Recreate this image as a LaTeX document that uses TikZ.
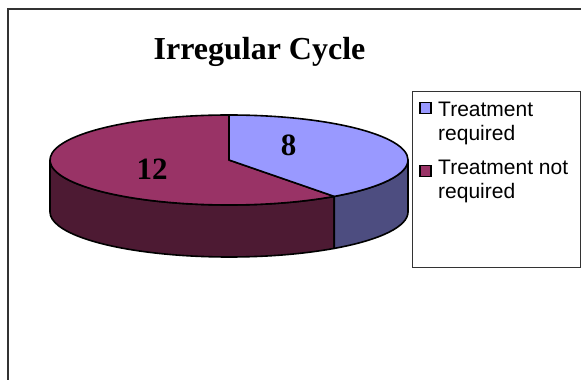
\documentclass[tikz,border=0pt]{standalone}
\usepackage{fontspec}
\usetikzlibrary{calc}
\setmainfont{Liberation Serif}
\newfontfamily\legendfont{Liberation Sans}
\definecolor{reqtop}{HTML}{9999FF}
\definecolor{reqside}{HTML}{4D4D80}
\definecolor{notop}{HTML}{993366}
\definecolor{noside}{HTML}{4D1A33}
\tikzset{
	slice/.style={draw=black,line width=1.6pt,line join=round},
	keybox/.style={draw=black,line width=1.4pt,minimum size=11pt,inner sep=0pt},
	keytext/.style={anchor=base west,align=left,inner sep=0pt,font=\legendfont\fontsize{21}{24.5}\selectfont},
	count/.style={anchor=base,inner sep=0pt,font=\fontsize{31}{36}\selectfont\bfseries}
}
\begin{document}
\begin{tikzpicture}[x=1pt,y=1pt]
			\useasboundingbox (0,0) rectangle (581,380);
			\clip (0,0) rectangle (581,380);
			\fill[white] (0,0) rectangle (581,380);
			\draw[line width=2pt,color=black!80] (8,-10) -- (8,371) -- (600,371);
			\node (title) at (259.5,320) [anchor=base,inner sep=0pt,font=\fontsize{32}{38}\selectfont\bfseries] {Irregular Cycle};
			\coordinate (c) at (229,220);
			\coordinate (cut) at ($(c)+(306:179 and 45)$);
			\filldraw[slice,fill=noside] (c) ++(180:179 and 45) arc[start angle=180,end angle=306,x radius=179,y radius=45] -- ++(0,-52) arc[start angle=306,end angle=180,x radius=179,y radius=45] -- cycle;
			\filldraw[slice,fill=reqside] (cut) arc[start angle=306,end angle=360,x radius=179,y radius=45] -- ++(0,-52) arc[start angle=360,end angle=306,x radius=179,y radius=45] -- cycle;
			\filldraw[slice,fill=notop] (c) -- (cut) arc[start angle=-54,end angle=-270,x radius=179,y radius=45] -- cycle;
			\filldraw[slice,fill=reqtop] (c) -- ++(90:179 and 45) arc[start angle=90,end angle=-54,x radius=179,y radius=45] -- cycle;
			\node (lblA) at (288.5,224) [count] {8};
			\node (lblB) at (152,200) [count] {12};
			\draw[line width=1pt,color=black!80] (412,112) rectangle (580,288);
			\node (mk1) at (425.5,272) [keybox,fill=reqtop] {};
			\node (mk2) at (425.5,209) [keybox,fill=notop] {};
			\node (key1) at (438,239) [keytext] {Treatment\\required};
			\node (key2) at (438,181) [keytext] {Treatment not\\required};
\end{tikzpicture}
\end{document}
